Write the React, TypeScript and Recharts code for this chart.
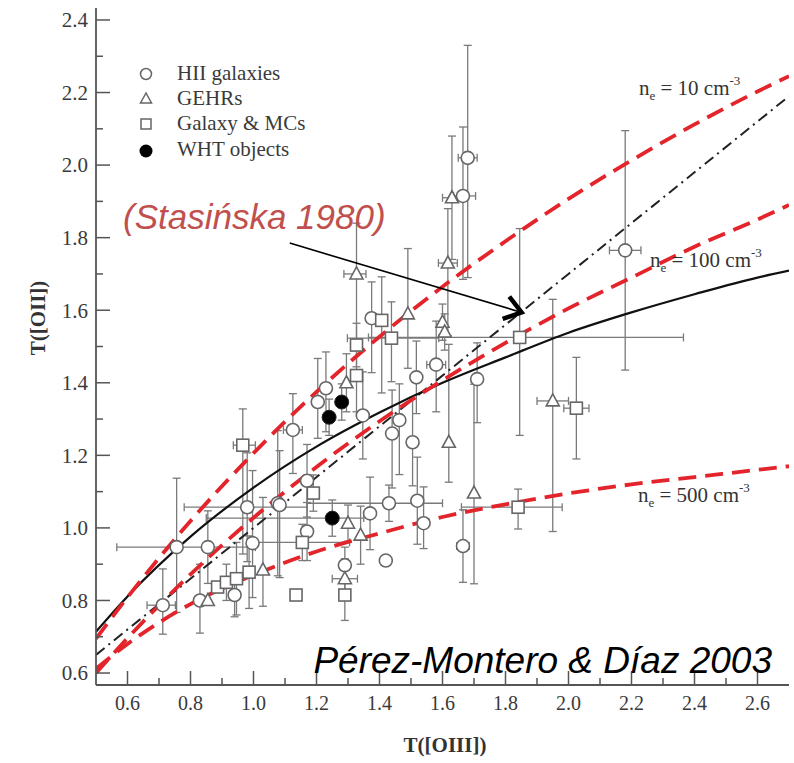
import React from "react";
import {
  ComposedChart,
  Line,
  Scatter,
  ErrorBar,
  XAxis,
  YAxis,
  ReferenceLine,
} from "recharts";

// T([OIII]) -> T([OII]) model curves
const neTen = [
  { x: 0.5, y: 0.695 }, { x: 0.6, y: 0.809 }, { x: 0.8, y: 1.019 }, { x: 1.0, y: 1.206 },
  { x: 1.2, y: 1.375 }, { x: 1.4, y: 1.527 }, { x: 1.6, y: 1.665 }, { x: 1.8, y: 1.79 },
  { x: 2.0, y: 1.907 }, { x: 2.2, y: 2.013 }, { x: 2.4, y: 2.112 }, { x: 2.6, y: 2.203 },
  { x: 2.7, y: 2.245 },
];
const neHundred = [
  { x: 0.5, y: 0.6 }, { x: 0.6, y: 0.696 }, { x: 0.8, y: 0.872 }, { x: 1.0, y: 1.028 },
  { x: 1.2, y: 1.168 }, { x: 1.4, y: 1.294 }, { x: 1.6, y: 1.407 }, { x: 1.8, y: 1.51 },
  { x: 2.0, y: 1.605 }, { x: 2.2, y: 1.69 }, { x: 2.4, y: 1.775 }, { x: 2.6, y: 1.85 },
  { x: 2.7, y: 1.89 },
];
const neFiveHundred = [
  { x: 0.5, y: 0.612 }, { x: 0.6, y: 0.68 }, { x: 0.8, y: 0.79 }, { x: 1.0, y: 0.87 },
  { x: 1.2, y: 0.935 }, { x: 1.4, y: 0.985 }, { x: 1.6, y: 1.03 }, { x: 1.8, y: 1.065 },
  { x: 2.0, y: 1.095 }, { x: 2.2, y: 1.12 }, { x: 2.4, y: 1.14 }, { x: 2.6, y: 1.16 },
  { x: 2.7, y: 1.17 },
];
const stasinska = [
  { x: 0.5, y: 0.714 }, { x: 0.6, y: 0.811 }, { x: 0.8, y: 0.976 }, { x: 1.0, y: 1.111 },
  { x: 1.2, y: 1.224 }, { x: 1.4, y: 1.318 }, { x: 1.6, y: 1.4 }, { x: 1.8, y: 1.47 },
  { x: 2.0, y: 1.538 }, { x: 2.2, y: 1.594 }, { x: 2.4, y: 1.644 }, { x: 2.6, y: 1.69 },
  { x: 2.7, y: 1.709 },
];
const garnett = [
  { x: 0.5, y: 0.65 }, { x: 1.0, y: 1.0 }, { x: 1.5, y: 1.35 }, { x: 2.0, y: 1.7 },
  { x: 2.7, y: 2.19 },
];

// observed objects: ex / ey are [minus, plus]
const hiiGalaxies = [
  { x: 1.68, y: 2.02, ex: [0.03, 0.03], ey: [0.33, 0.31] },
  { x: 1.665, y: 1.915, ex: [0.03, 0.04], ey: [0.23, 0.19] },
  { x: 2.18, y: 1.765, ex: [0.05, 0.05], ey: [0.33, 0.33] },
  { x: 1.71, y: 1.41, ex: [0, 0], ey: [0.12, 0.1] },
  { x: 1.58, y: 1.45, ex: [0.03, 0.03], ey: [0.13, 0.12] },
  { x: 1.665, y: 0.95, ex: [0.02, 0.02], ey: [0.1, 0.1] },
  { x: 1.54, y: 1.013, ex: [0, 0], ey: [0.07, 0.1] },
  { x: 1.52, y: 1.075, ex: [0, 0], ey: [0.12, 0.12] },
  { x: 1.43, y: 1.068, ex: [0.26, 0.17], ey: [0.05, 0.05] },
  { x: 1.42, y: 0.91, ex: [0, 0], ey: [0, 0] },
  { x: 1.37, y: 1.04, ex: [0, 0], ey: [0.1, 0.1] },
  { x: 1.29, y: 0.897, ex: [0, 0], ey: [0.05, 0.05] },
  { x: 1.17, y: 0.99, ex: [0, 0], ey: [0.08, 0.08] },
  { x: 1.17, y: 1.13, ex: [0, 0], ey: [0.1, 0.1] },
  { x: 1.077, y: 1.068, ex: [0, 0], ey: [0.2, 0.2] },
  { x: 1.125, y: 1.27, ex: [0.03, 0.03], ey: [0.12, 0.1] },
  { x: 0.756, y: 0.947, ex: [0.19, 0.25], ey: [0.18, 0.19] },
  { x: 0.855, y: 0.947, ex: [0, 0], ey: [0.1, 0.1] },
  { x: 0.98, y: 1.057, ex: [0.2, 0.19], ey: [0.15, 0.15] },
  { x: 0.997, y: 0.958, ex: [0, 0], ey: [0.15, 0.2] },
  { x: 1.083, y: 1.063, ex: [0, 0], ey: [0.2, 0.15] },
  { x: 0.712, y: 0.787, ex: [0.05, 0.04], ey: [0.08, 0.1] },
  { x: 0.83, y: 0.8, ex: [0, 0], ey: [0.09, 0.1] },
  { x: 0.94, y: 0.815, ex: [0, 0], ey: [0.06, 0.06] },
  { x: 1.375, y: 1.578, ex: [0, 0], ey: [0.15, 0.1] },
  { x: 1.23, y: 1.385, ex: [0, 0], ey: [0.12, 0.1] },
  { x: 1.204, y: 1.347, ex: [0, 0], ey: [0.1, 0.12] },
  { x: 1.347, y: 1.31, ex: [0, 0], ey: [0.12, 0.12] },
  { x: 1.517, y: 1.415, ex: [0, 0], ey: [0.1, 0.1] },
  { x: 1.463, y: 1.297, ex: [0, 0], ey: [0.15, 0.1] },
  { x: 1.44, y: 1.26, ex: [0, 0], ey: [0.15, 0.12] },
  { x: 1.505, y: 1.236, ex: [0, 0], ey: [0.12, 0.12] },
];
const gehrs = [
  { x: 1.63, y: 1.91, ex: [0.03, 0.03], ey: [0.17, 0.17] },
  { x: 1.617, y: 1.73, ex: [0.03, 0.03], ey: [0.2, 0.15] },
  { x: 1.6, y: 1.567, ex: [0, 0], ey: [0.05, 0.05] },
  { x: 1.607, y: 1.54, ex: [0, 0], ey: [0.05, 0.05] },
  { x: 1.49, y: 1.59, ex: [0, 0], ey: [0.15, 0.18] },
  { x: 1.327, y: 1.7, ex: [0.04, 0.03], ey: [0.2, 0.14] },
  { x: 1.295, y: 1.4, ex: [0, 0], ey: [0.08, 0.08] },
  { x: 1.95, y: 1.35, ex: [0.05, 0.05], ey: [0.36, 0.28] },
  { x: 1.62, y: 1.236, ex: [0, 0], ey: [0.11, 0.27] },
  { x: 1.7, y: 1.096, ex: [0, 0], ey: [0.25, 0.3] },
  { x: 1.34, y: 0.98, ex: [0, 0], ey: [0.08, 0.08] },
  { x: 1.3, y: 1.013, ex: [0, 0], ey: [0.05, 0.05] },
  { x: 1.29, y: 0.86, ex: [0.04, 0.04], ey: [0.04, 0.04] },
  { x: 0.855, y: 0.8, ex: [0, 0], ey: [0, 0] },
  { x: 1.03, y: 0.884, ex: [0, 0], ey: [0.1, 0.2] },
];
const galaxyMCs = [
  { x: 1.845, y: 1.525, ex: [0.48, 0.52], ey: [0.27, 0.3] },
  { x: 2.025, y: 1.33, ex: [0.04, 0.04], ey: [0.14, 0.14] },
  { x: 1.84, y: 1.057, ex: [0.18, 0.14], ey: [0.06, 0.05] },
  { x: 1.29, y: 0.815, ex: [0, 0], ey: [0.07, 0.1] },
  { x: 1.135, y: 0.815, ex: [0, 0], ey: [0, 0] },
  { x: 1.155, y: 0.96, ex: [0.16, 0.15], ey: [0.05, 0.05] },
  { x: 1.19, y: 1.096, ex: [0, 0], ey: [0.05, 0.05] },
  { x: 0.966, y: 1.228, ex: [0.03, 0.04], ey: [0.3, 0.1] },
  { x: 0.886, y: 0.837, ex: [0, 0], ey: [0, 0] },
  { x: 0.914, y: 0.85, ex: [0, 0], ey: [0.05, 0.05] },
  { x: 0.946, y: 0.86, ex: [0, 0], ey: [0.1, 0.1] },
  { x: 0.986, y: 0.878, ex: [0, 0], ey: [0.1, 0.1] },
  { x: 1.407, y: 1.572, ex: [0, 0], ey: [0.2, 0.12] },
  { x: 1.438, y: 1.523, ex: [0.14, 0.15], ey: [0.12, 0.1] },
  { x: 1.327, y: 1.504, ex: [0, 0], ey: [0.06, 0.06] },
  { x: 1.327, y: 1.42, ex: [0, 0], ey: [0.1, 0.1] },
];
const whtObjects = [
  { x: 1.25, y: 1.027, ex: [0.4, 0.1], ey: [0.05, 0.05] },
  { x: 1.28, y: 1.347, ex: [0, 0], ey: [0.05, 0.05] },
  { x: 1.24, y: 1.305, ex: [0, 0], ey: [0.05, 0.05] },
];

const xTicks = [0.6, 0.7, 0.8, 0.9, 1.0, 1.1, 1.2, 1.3, 1.4, 1.5, 1.6, 1.7, 1.8, 1.9, 2.0, 2.1, 2.2, 2.3, 2.4, 2.5, 2.6];
const yTicks = [0.6, 0.7, 0.8, 0.9, 1.0, 1.1, 1.2, 1.3, 1.4, 1.5, 1.6, 1.7, 1.8, 1.9, 2.0, 2.1, 2.2, 2.3, 2.4];
const xDomain = [0.5, 2.7];
const yDomain = [0.567, 2.433];

const serif = '"Liberation Serif", "Times New Roman", serif';
const sans = '"Liberation Sans", Arial, sans-serif';
const frame = "#555";
const markStroke = "#666";
const barColor = "#7a7a7a";
const red = "#e3242b";

const isMajor = (v: number) => Math.round(v * 10) % 2 === 0;

const makeTick = (side: "left" | "bottom" | "top" | "right") => (props: any) => {
  const { x, y, payload } = props;
  const v = payload.value as number;
  const len = isMajor(v) ? 14 : 7;
  let line;
  if (side === "left") line = <line x1={x} y1={y} x2={x + len} y2={y} />;
  else if (side === "right") line = <line x1={x} y1={y} x2={x - len} y2={y} />;
  else if (side === "top") line = <line x1={x} y1={y} x2={x} y2={y + len} />;
  else line = <line x1={x} y1={y} x2={x} y2={y - len} />;
  return (
    <g stroke={frame} strokeWidth={1.5}>
      {line}
      {isMajor(v) && side === "left" && (
        <text x={x - 8} y={y} dy="0.35em" textAnchor="end" fill="#3a3a3a" stroke="none" fontFamily={serif} fontSize={21}>
          {v.toFixed(1)}
        </text>
      )}
      {isMajor(v) && side === "bottom" && (
        <text x={x} y={y + 25} textAnchor="middle" fill="#3a3a3a" stroke="none" fontFamily={serif} fontSize={20}>
          {v.toFixed(1)}
        </text>
      )}
    </g>
  );
};

const openCircle = (p: any) => <circle cx={p.cx} cy={p.cy} r={6.5} fill="#fff" stroke={markStroke} strokeWidth={1.6} />;
const filledCircle = (p: any) => <circle cx={p.cx} cy={p.cy} r={7} fill="#000" stroke="#222" strokeWidth={1} />;
const openSquare = (p: any) => (
  <rect x={p.cx - 6} y={p.cy - 6} width={12} height={12} fill="#fff" stroke={markStroke} strokeWidth={1.6} />
);
const openTriangle = (p: any) => (
  <polygon
    points={`${p.cx},${p.cy - 7} ${p.cx - 6.5},${p.cy + 5} ${p.cx + 6.5},${p.cy + 5}`}
    fill="#fff"
    stroke={markStroke}
    strokeWidth={1.6}
  />
);

const arrowShape = (p: any) => {
  const { x1, y1, x2, y2 } = p;
  const a = Math.atan2(y2 - y1, x2 - x1);
  const L = 20;
  const w = 0.62;
  const ax = x2 - L * Math.cos(a - w);
  const ay = y2 - L * Math.sin(a - w);
  const bx = x2 - L * Math.cos(a + w);
  const by = y2 - L * Math.sin(a + w);
  return (
    <g>
      <line x1={x1} y1={y1} x2={x2} y2={y2} stroke="#000" strokeWidth={1.6} />
      <polyline points={`${ax},${ay} ${x2},${y2} ${bx},${by}`} fill="none" stroke="#000" strokeWidth={4.5} strokeLinejoin="miter" />
    </g>
  );
};

const bars = (
  [
    <ErrorBar key="ex" dataKey="ex" direction="x" width={4} stroke={barColor} strokeWidth={1.3} />,
    <ErrorBar key="ey" dataKey="ey" direction="y" width={4} stroke={barColor} strokeWidth={1.3} />,
  ]
);

export default function App() {
  return (
    <div style={{ position: "absolute", left: 0, top: 0, width: 794, height: 763, background: "#fff" }}>
      <ComposedChart width={794} height={763} margin={{ top: 8, right: 5, bottom: 0, left: 0 }}>
        <XAxis
          xAxisId="b"
          dataKey="x"
          type="number"
          domain={xDomain}
          ticks={xTicks}
          interval={0}
          allowDataOverflow
          height={78}
          tickSize={0}
          tickMargin={0}
          tickLine={false}
          axisLine={{ stroke: frame, strokeWidth: 1.8 }}
          tick={makeTick("bottom")}
        />
        <XAxis
          xAxisId="t"
          orientation="top"
          dataKey="x"
          type="number"
          domain={xDomain}
          ticks={xTicks}
          interval={0}
          allowDataOverflow
          height={0}
          tickSize={0}
          tickMargin={0}
          tickLine={false}
          axisLine={{ stroke: frame, strokeWidth: 1.8 }}
          tick={makeTick("top")}
        />
        <YAxis
          yAxisId="l"
          type="number"
          domain={yDomain}
          ticks={yTicks}
          interval={0}
          allowDataOverflow
          width={96}
          tickSize={0}
          tickMargin={0}
          tickLine={false}
          axisLine={{ stroke: frame, strokeWidth: 1.8 }}
          tick={makeTick("left")}
        />
        <YAxis
          yAxisId="r"
          orientation="right"
          type="number"
          domain={yDomain}
          ticks={yTicks}
          interval={0}
          allowDataOverflow
          width={0}
          tickSize={0}
          tickMargin={0}
          tickLine={false}
          axisLine={{ stroke: frame, strokeWidth: 1.8 }}
          tick={makeTick("right")}
        />

        <Scatter xAxisId="b" yAxisId="l" name="HII galaxies" data={hiiGalaxies} dataKey="y" shape={openCircle} isAnimationActive={false}>
          {bars}
        </Scatter>
        <Scatter xAxisId="b" yAxisId="l" name="GEHRs" data={gehrs} dataKey="y" shape={openTriangle} isAnimationActive={false}>
          {bars}
        </Scatter>
        <Scatter xAxisId="b" yAxisId="l" name="Galaxy & MCs" data={galaxyMCs} dataKey="y" shape={openSquare} isAnimationActive={false}>
          {bars}
        </Scatter>
        <Scatter xAxisId="b" yAxisId="l" name="WHT objects" data={whtObjects} dataKey="y" shape={filledCircle} isAnimationActive={false}>
          {bars}
        </Scatter>

        <Line xAxisId="b" yAxisId="l" data={garnett} dataKey="y" type="linear" stroke="#222" strokeWidth={2} strokeDasharray="11 5 2 5" dot={false} isAnimationActive={false} />
        <Line xAxisId="b" yAxisId="l" data={stasinska} dataKey="y" type="monotone" stroke="#111" strokeWidth={2.2} dot={false} isAnimationActive={false} />
        <Line xAxisId="b" yAxisId="l" data={neTen} dataKey="y" type="monotone" stroke={red} strokeWidth={3.8} strokeDasharray="18 9" dot={false} isAnimationActive={false} />
        <Line xAxisId="b" yAxisId="l" data={neHundred} dataKey="y" type="monotone" stroke={red} strokeWidth={3.8} strokeDasharray="18 9" dot={false} isAnimationActive={false} />
        <Line xAxisId="b" yAxisId="l" data={neFiveHundred} dataKey="y" type="monotone" stroke={red} strokeWidth={3.8} strokeDasharray="18 9" dot={false} isAnimationActive={false} />

        <ReferenceLine
          xAxisId="b"
          yAxisId="l"
          segment={[{ x: 1.115, y: 1.785 }, { x: 1.851, y: 1.594 }]}
          shape={arrowShape}
          ifOverflow="visible"
        />
      </ComposedChart>

      <svg width={794} height={763} style={{ position: "absolute", left: 0, top: 0, pointerEvents: "none" }}>
        {/* legend */}
        <g fontFamily={serif} fontSize={21} fill="#3a3a3a">
          <circle cx={146} cy={74} r={5.5} fill="#fff" stroke={markStroke} strokeWidth={1.5} />
          <text x={177} y={80}>HII galaxies</text>
          <polygon points="146,93 140.5,103 151.5,103" fill="#fff" stroke={markStroke} strokeWidth={1.5} />
          <text x={177} y={105}>GEHRs</text>
          <rect x={141} y={119} width={10} height={10} fill="#fff" stroke={markStroke} strokeWidth={1.5} />
          <text x={177} y={130}>Galaxy &amp; MCs</text>
          <circle cx={146} cy={151} r={6.5} fill="#000" />
          <text x={177} y={156}>WHT objects</text>
        </g>

        {/* density labels */}
        <g fontFamily={serif} fontSize={21} fill="#333">
          <text x={639} y={95}>
            n<tspan fontSize={13} dy={5}>e</tspan>
            <tspan dy={-5}> = 10 cm</tspan>
            <tspan fontSize={13} dy={-10}>-3</tspan>
          </text>
          <text x={650} y={267}>
            n<tspan fontSize={13} dy={5}>e</tspan>
            <tspan dy={-5}> = 100 cm</tspan>
            <tspan fontSize={13} dy={-10}>-3</tspan>
          </text>
          <text x={638} y={502}>
            n<tspan fontSize={13} dy={5}>e</tspan>
            <tspan dy={-5}> = 500 cm</tspan>
            <tspan fontSize={13} dy={-10}>-3</tspan>
          </text>
        </g>

        {/* axis titles */}
        <text x={445} y={752} textAnchor="middle" fontFamily={serif} fontWeight="bold" fontSize={21} fill="#333">
          T([OIII])
        </text>
        <text
          x={0}
          y={0}
          transform="translate(45,318) rotate(-90)"
          textAnchor="middle"
          fontFamily={serif}
          fontWeight="bold"
          fontSize={21}
          fill="#333"
        >
          T([OII])
        </text>

        {/* citations */}
        <text x={123} y={229} fontFamily={sans} fontStyle="italic" fontSize={35} fill="#c0504d">
          (Stasińska 1980)
        </text>
        <text x={772} y={673} textAnchor="end" fontFamily={sans} fontStyle="italic" fontSize={37} fill="#000">
          Pérez-Montero &amp; Díaz 2003
        </text>
      </svg>
    </div>
  );
}
